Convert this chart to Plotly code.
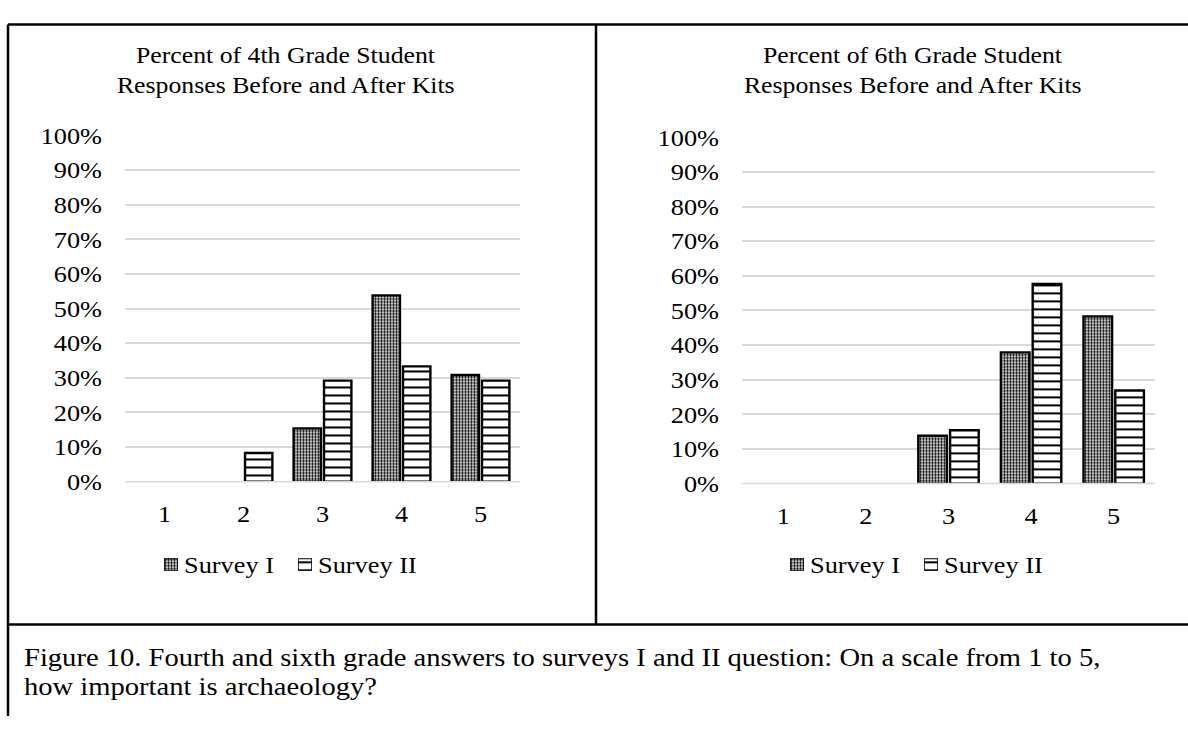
import plotly.graph_objects as go

# Survey response scale and percent of students choosing each value
categories = ["1", "2", "3", "4", "5"]
g4_survey1 = [0, 0, 15.4, 53.8, 30.8]
g4_survey2 = [0, 8.3, 29.2, 33.3, 29.2]
g6_survey1 = [0, 0, 13.8, 37.9, 48.3]
g6_survey2 = [0, 0, 15.4, 57.7, 26.9]

series_names = ["Survey I", "Survey II"]
y_ticks = list(range(0, 101, 10))
titles = [
    ["Percent of 4th Grade Student", "Responses Before and After Kits"],
    ["Percent of 6th Grade Student", "Responses Before and After Kits"],
]
caption = [
    "Figure 10. Fourth and sixth grade answers to surveys I and II question: On a scale from 1 to 5,",
    "how important is archaeology?",
]

W, H = 1188, 729
FONT = "Liberation Serif, Times New Roman, serif"
WIDEN = 1.12  # slight horizontal stretch of the text glyphs


def fx(p):
    return p / W


def fy(p):
    return 1 - p / H


def nz(vals):
    return [v if v else None for v in vals]


checker = dict(shape=".", size=3, solidity=0.5, fgcolor="black", bgcolor="white", fillmode="replace")
stripes = dict(shape="-", size=8, solidity=0.25, fgcolor="black", bgcolor="white", fillmode="replace")
patterns = [checker, stripes]

fig = go.Figure()
panels = [
    (g4_survey1, g4_survey2, "x", "y"),
    (g6_survey1, g6_survey2, "x2", "y2"),
]
for s1, s2, xa, ya in panels:
    for name, vals, pat in zip(series_names, (s1, s2), patterns):
        fig.add_trace(go.Bar(
            x=categories, y=nz(vals), name=name, xaxis=xa, yaxis=ya, showlegend=False,
            marker=dict(color="white", pattern=pat, line=dict(color="black", width=2.4)),
            hoverinfo="skip",
        ))

axis_font = dict(family=FONT, size=23.5, color="black")
xcommon = dict(type="category", showgrid=False, showline=False, zeroline=False, ticks="",
               tickfont=axis_font, ticklabelstandoff=16, fixedrange=True)
ycommon = dict(range=[0, 100], tickvals=y_ticks, ticktext=[f"{t}%" for t in y_ticks],
               showgrid=True, gridcolor="#d9d9d9", gridwidth=1.5, zeroline=False,
               showline=False, ticks="", tickfont=axis_font, ticklabelstandoff=22, fixedrange=True)

fig.update_layout(
    width=W, height=H,
    margin=dict(l=0, r=0, t=0, b=0),
    paper_bgcolor="white", plot_bgcolor="white",
    barmode="group", bargap=0.23, bargroupgap=0.1,
    showlegend=False,
    xaxis=dict(domain=[fx(125), fx(520)], anchor="y", **xcommon),
    yaxis=dict(domain=[fy(486), fy(127)], anchor="x", **ycommon),
    xaxis2=dict(domain=[fx(742), fx(1155)], anchor="y2", **xcommon),
    yaxis2=dict(domain=[fy(488), fy(129)], anchor="x2", **ycommon),
)

# Legend: a small patterned swatch (its own tiny hidden axes) followed by the series name
legend_y = 572
legend_rows = [(164, 298), (790, 924)]  # swatch left edges for Survey I / Survey II in each panel
ax_n = 3
for starts in legend_rows:
    for name, pat, sx in zip(series_names, patterns, starts):
        xa, ya = f"x{ax_n}", f"y{ax_n}"
        fig.add_trace(go.Bar(
            x=[0], y=[1], width=[1], xaxis=xa, yaxis=ya, showlegend=False, hoverinfo="skip",
            marker=dict(color="white", pattern=pat, line=dict(color="black", width=1.6)),
        ))
        fig.layout[f"xaxis{ax_n}"] = dict(domain=[fx(sx), fx(sx + 14)], range=[-0.5, 0.5],
                                          visible=False, anchor=ya, fixedrange=True)
        fig.layout[f"yaxis{ax_n}"] = dict(domain=[fy(legend_y + 6.5), fy(legend_y - 6.5)], range=[0, 1],
                                          visible=False, anchor=xa, fixedrange=True)
        fig.add_annotation(text=name, x=fx(sx + 18), y=fy(legend_y), xref="paper", yref="paper",
                           showarrow=False, xanchor="left", yanchor="middle", align="left",
                           font=dict(family=FONT, size=23.5, color="black"))
        ax_n += 1

# Baseline of each chart
fig.add_shape(type="line", xref="paper", yref="paper", x0=fx(125), x1=fx(520), y0=fy(486), y1=fy(486),
              line=dict(color="#d9d9d9", width=1.5))
fig.add_shape(type="line", xref="paper", yref="paper", x0=fx(742), x1=fx(1155), y0=fy(488), y1=fy(488),
              line=dict(color="#cdd8e8", width=1.5))

# Chart titles
for cx, lines in ((286, titles[0]), (913, titles[1])):
    for i, t in enumerate(lines):
        fig.add_annotation(text=t, x=fx(cx), y=fy(44 + 31 * i), xref="paper", yref="paper",
                           showarrow=False, xanchor="center", yanchor="middle", align="center",
                           font=dict(family=FONT, size=23, color="black"))

# Table borders around the two panels and the caption
border = dict(color="black", width=2.5)
for x0, y0, x1, y1 in ((8, 12, W, 12), (8, 12, 8, H), (8, 634, W, 634), (596, 12, 596, 634)):
    fig.add_shape(type="line", xref="paper", yref="paper",
                  x0=fx(x0), y0=fy(y0), x1=fx(x1), y1=fy(y1), line=border)

# Caption
for i, t in enumerate(caption):
    fig.add_annotation(text=t, x=fx(22), y=fy(668 + 30 * i), xref="paper", yref="paper",
                       showarrow=False, xanchor="left", yanchor="middle", align="left",
                       font=dict(family=FONT, size=25.5, color="black"))

# Widen the glyphs of every text element around its own anchor point
widen_js = """
var gd = document.getElementById('{plot_id}');
function widenText() {
  gd.querySelectorAll('svg text').forEach(function (t) {
    if (t.getAttribute('data-widened') === t.textContent) { return; }
    t.removeAttribute('textLength');
    var w = t.getComputedTextLength();
    if (w > 0) {
      t.setAttribute('textLength', (w * %s).toFixed(2));
      t.setAttribute('lengthAdjust', 'spacingAndGlyphs');
      t.setAttribute('data-widened', t.textContent);
    }
  });
}
widenText();
gd.on('plotly_afterplot', widenText);
[0, 50, 200].forEach(function (ms) { setTimeout(widenText, ms); });
""" % WIDEN

fig.write_html("out.html", post_script=widen_js)
